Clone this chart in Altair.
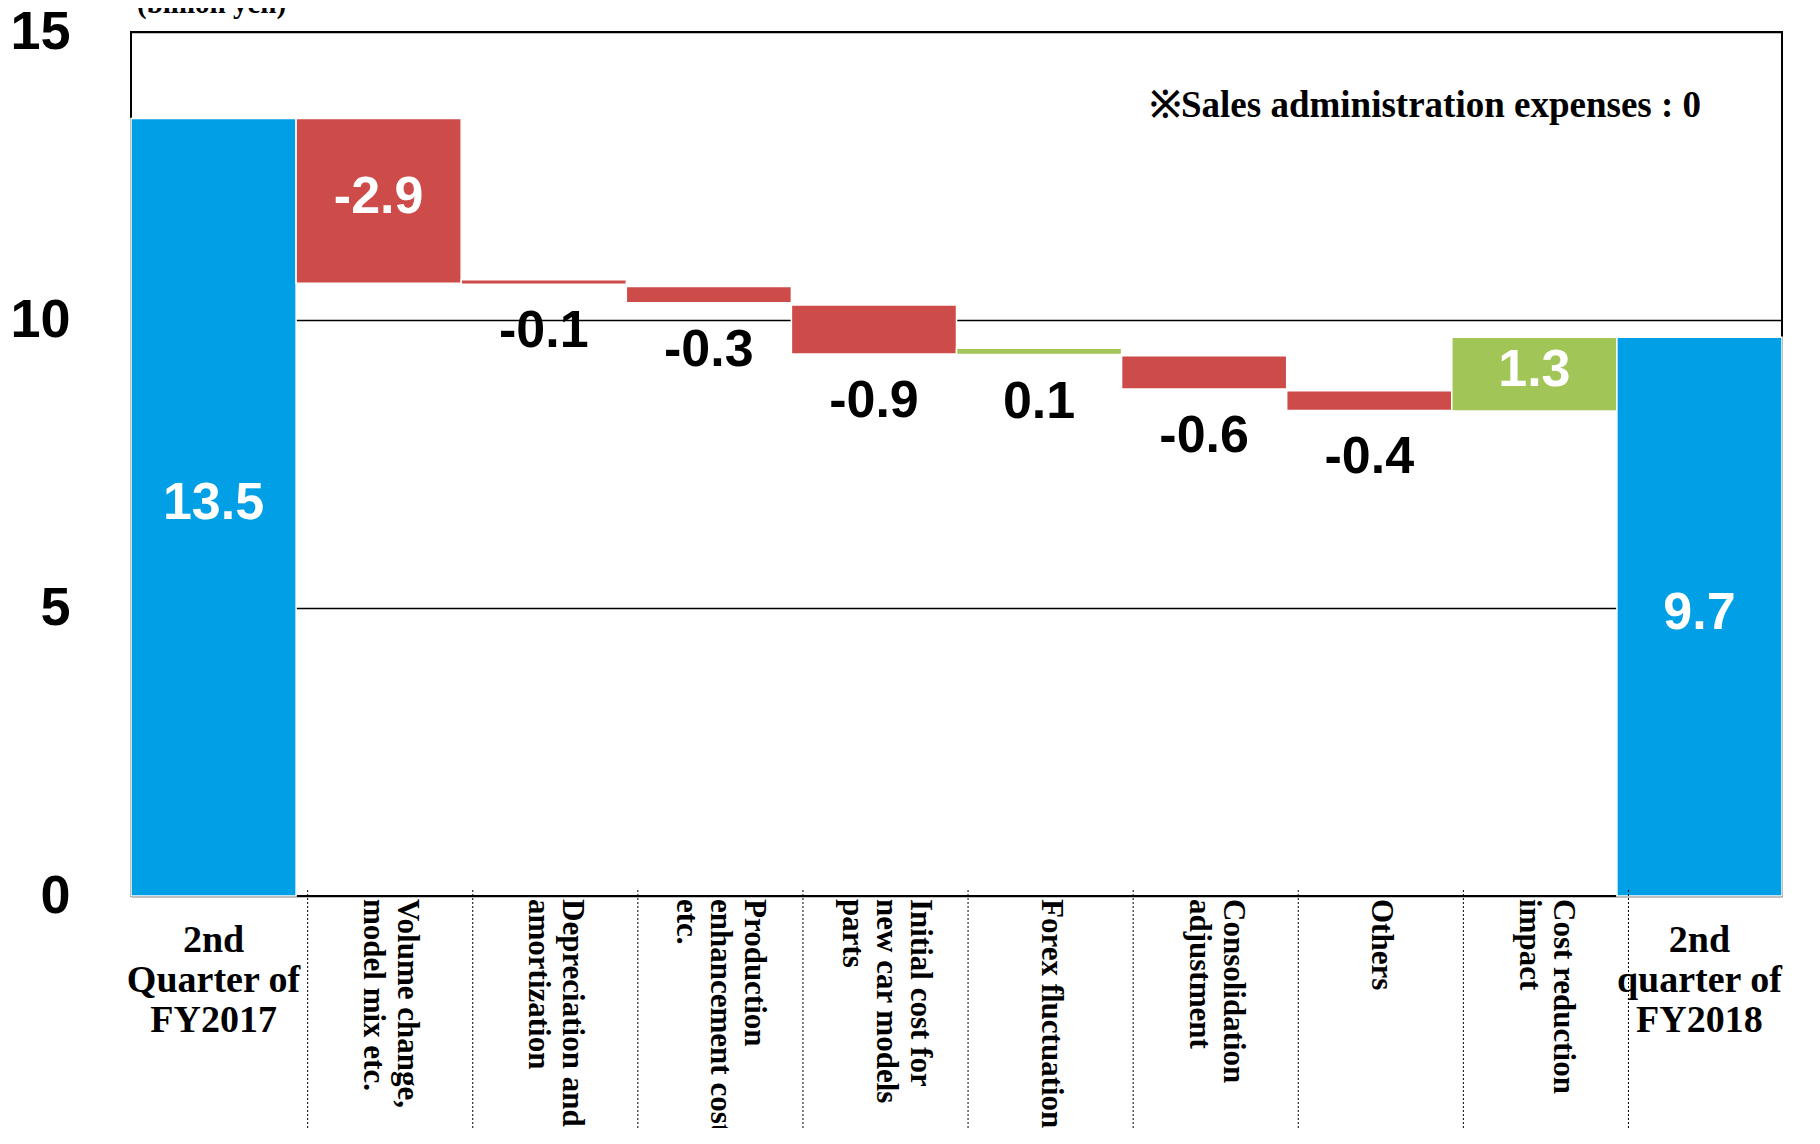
import altair as alt
import pandas as pd

# ---- data ----
categories = [
    "2nd\nQuarter of\nFY2017",
    "Volume change,\nmodel mix etc.",
    "Depreciation and\namortization",
    "Production\nenhancement cost\netc.",
    "Initial cost for\nnew car models\nparts",
    "Forex fluctuation",
    "Consolidation\nadjustment",
    "Others",
    "Cost reduction\nimpact",
    "2nd\nquarter of\nFY2018",
]
value_labels = ["13.5", "-2.9", "-0.1", "-0.3", "-0.9", "0.1", "-0.6", "-0.4", "1.3", "9.7"]
bar_low = [0, 10.64, 10.62, 10.30, 9.41, 9.40, 8.80, 8.43, 8.42, 0]
bar_high = [13.5, 13.5, 10.70, 10.58, 10.26, 9.51, 9.38, 8.77, 9.70, 9.70]
bar_kind = ["total", "down", "down", "down", "down", "up", "down", "down", "up", "total"]
label_inside = [True, True, False, False, False, False, False, False, True, True]
rotated_label = [False, True, True, True, True, True, True, True, True, False]
y_ticks = [0, 5, 10, 15]
unit_text = "(billion yen)"
note_text = "※Sales administration expenses : 0"

# ---- styling ----
W, H = 1651, 864
BLUE, RED, GREEN = "#009FE6", "#CD4B48", "#A2C557"
SANS, SERIF = "Liberation Sans", "Liberation Serif"
SHIFT = 0.07      # offset of the lower table columns relative to the bars (in bands)
ROT_LH = 34       # line height of rotated labels (px)

n = len(categories)
band_px = W / n
df = pd.DataFrame({
    "cat": categories,
    "lbl": value_labels,
    "low": bar_low,
    "high": bar_high,
    "kind": bar_kind,
    "inside": label_inside,
    "rot": rotated_label,
})
df["i"] = range(n)
df["x0"] = df["i"]
df["x1"] = df["i"] + 1
df["xc"] = df["i"] + 0.5
nlines = df["cat"].str.count("\n")
# Vega anchors the first line of a rotated multi-line text; centre the whole block
df["xr"] = df["i"] + 0.5 + SHIFT + nlines * ROT_LH / 2 / band_px
df["mid"] = (df["low"] + df["high"]) / 2

sep = pd.DataFrame({"sx": [k + SHIFT for k in range(1, n)]})

xs = alt.Scale(domain=[0, n], nice=False, zero=False)
ys = alt.Scale(domain=[0, 15], nice=False)

base = alt.Chart(df)

bars = base.mark_bar(stroke="white", strokeWidth=1.5).encode(
    x=alt.X("x0:Q", scale=xs, axis=None),
    x2="x1:Q",
    y=alt.Y(
        "low:Q",
        scale=ys,
        axis=alt.Axis(
            values=y_ticks, format="d", title=None, labelFont=SANS,
            labelFontWeight="bold", labelFontSize=54, labelColor="black",
            labelPadding=61, ticks=False, domain=False, grid=True,
            gridColor="black", gridWidth=1.5, gridOpacity=1,
            labelFlush=False, labelOverlap=False,
        ),
    ),
    y2="high:Q",
    color=alt.Color(
        "kind:N",
        scale=alt.Scale(domain=["total", "down", "up"], range=[BLUE, RED, GREEN]),
        legend=None,
    ),
)

inside_txt = base.transform_filter("datum.inside").mark_text(
    font=SANS, fontWeight="bold", fontSize=52, color="white", baseline="middle", dy=-4
).encode(x=alt.X("xc:Q", scale=xs), y=alt.Y("mid:Q", scale=ys), text="lbl:N")

below_txt = base.transform_filter("!datum.inside").mark_text(
    font=SANS, fontWeight="bold", fontSize=52, color="black", baseline="middle", dy=47
).encode(x=alt.X("xc:Q", scale=xs), y=alt.Y("low:Q", scale=ys), text="lbl:N")

rot_txt = base.transform_filter("datum.rot").mark_text(
    font=SERIF, fontWeight="bold", fontSize=31, lineHeight=ROT_LH, angle=90,
    align="left", baseline="middle", lineBreak="\n", color="black",
).encode(x=alt.X("xr:Q", scale=xs), y=alt.value(H + 3), text="cat:N")

hor_txt = base.transform_filter("!datum.rot").mark_text(
    font=SERIF, fontWeight="bold", fontSize=38, lineHeight=40,
    align="center", baseline="top", lineBreak="\n", color="black",
).encode(x=alt.X("xc:Q", scale=xs), y=alt.value(H + 26), text="cat:N")

seps = alt.Chart(sep).mark_rule(color="black", strokeWidth=1, strokeDash=[2, 2]).encode(
    x=alt.X("sx:Q", scale=xs), y=alt.value(H - 6), y2=alt.value(H + 300)
)

unit = alt.Chart(pd.DataFrame({"t": [unit_text]})).mark_text(
    font=SERIF, fontWeight="bold", fontSize=29, align="left", baseline="alphabetic"
).encode(x=alt.value(6), y=alt.value(-19), text="t:N")

note = alt.Chart(pd.DataFrame({"t": [note_text]})).mark_text(
    font=SERIF, fontWeight="bold", fontSize=37, align="left", baseline="alphabetic"
).encode(x=alt.value(1019), y=alt.value(85), text="t:N")

chart = alt.layer(bars, seps, inside_txt, below_txt, rot_txt, hor_txt, unit, note).properties(
    width=W,
    height=H,
    autosize=alt.AutoSizeParams(type="none"),
    padding={"left": 123, "top": 24, "right": 20, "bottom": 232},
    background="white",
).configure_view(stroke="black", strokeWidth=2)

chart.save("out.html", embed_options={"renderer": "svg", "actions": False})
